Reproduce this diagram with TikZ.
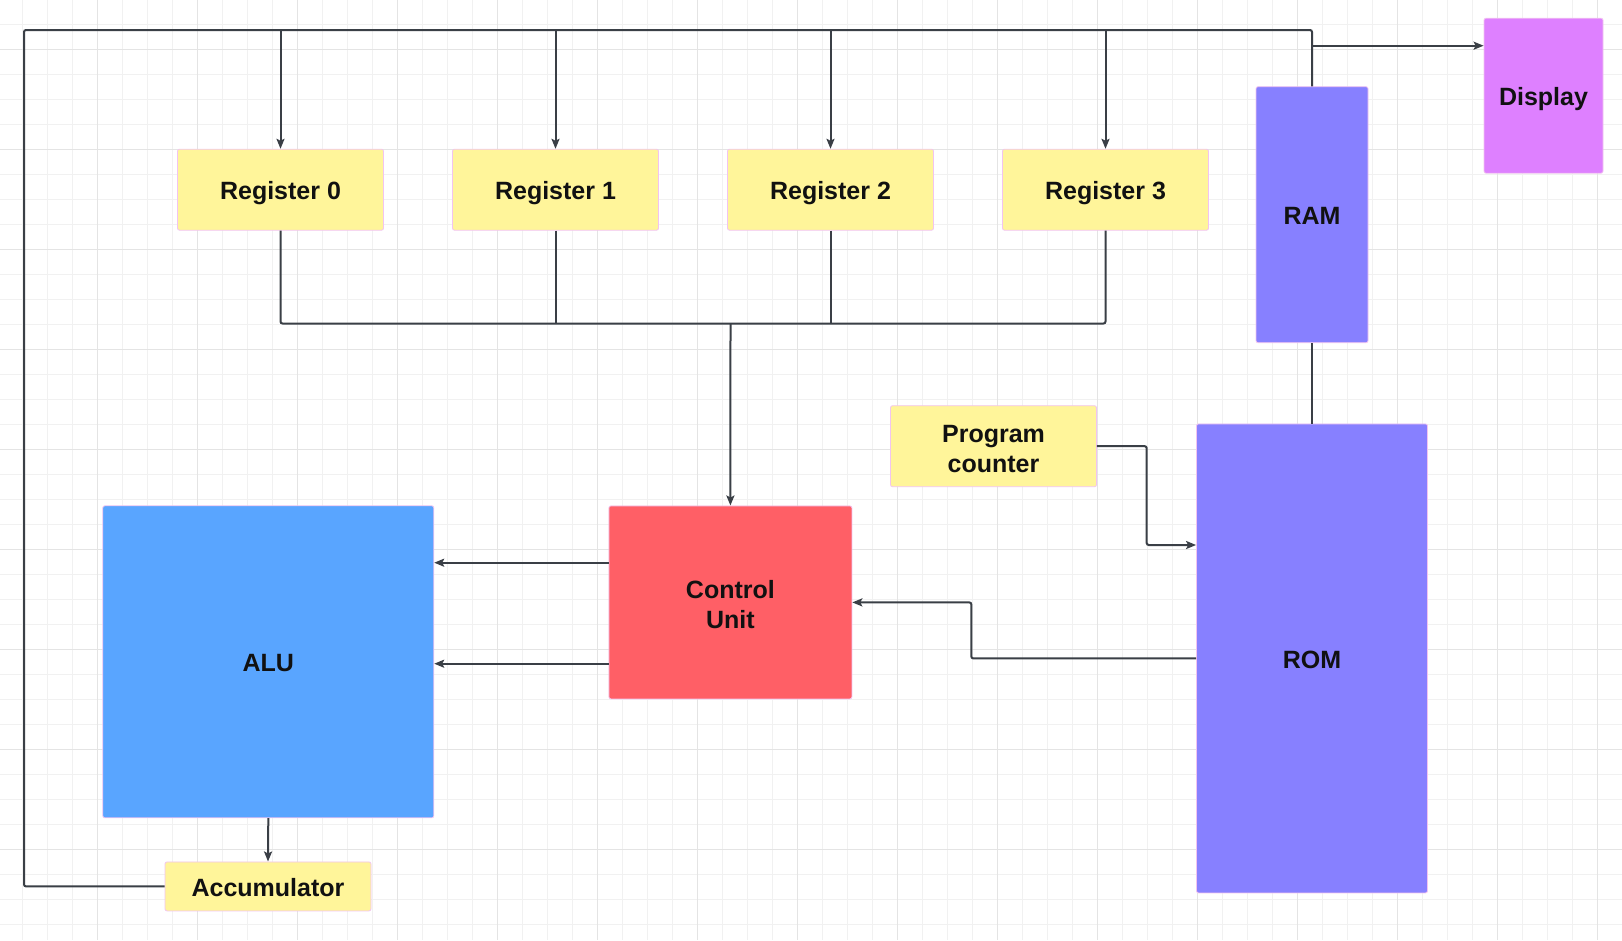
\documentclass[tikz,border=0pt]{standalone}
\usepackage{fontspec}
\setmainfont{Liberation Sans}
\usetikzlibrary{arrows.meta}

\definecolor{gridminor}{HTML}{F1F1F1}
\definecolor{gridmajor}{HTML}{E4E4E4}
\definecolor{wiregray}{HTML}{3A3F46}
\definecolor{boxedge}{HTML}{F2C4F0}
\definecolor{regyellow}{HTML}{FFF59A}
\definecolor{alublue}{HTML}{59A5FF}
\definecolor{cured}{HTML}{FF5F66}
\definecolor{mempurple}{HTML}{8780FF}
\definecolor{dspmagenta}{HTML}{DE80FF}
\definecolor{txtblack}{HTML}{111111}

\begin{document}
\begin{tikzpicture}[x=1pt,y=-1pt,
  box/.style={draw=boxedge,line width=0.8pt,rounded corners=2pt,inner sep=0pt,
    text=txtblack,font=\bfseries\fontsize{25}{30}\selectfont,align=center,
    text height=19.5pt,text depth=0pt},
  twolines/.style={text height=52pt,text depth=0pt},
  wire/.style={draw=wiregray,line width=2pt,rounded corners=2pt},
  arr/.style={wire,-{Stealth[length=10pt,width=8pt,inset=2pt]}}]

\useasboundingbox (0,0) rectangle (1622,940);
\fill[white] (0,0) rectangle (1622,940);

% grid
\foreach \x in {22.3,47.3,...,1622} \draw[gridminor,line width=1pt] (\x,0) -- (\x,940);
\foreach \y in {24,49,...,940} \draw[gridminor,line width=1pt] (0,\y) -- (1622,\y);
\foreach \x in {97.7,197.7,...,1622} \draw[gridmajor,line width=1pt] (\x,0) -- (\x,940);
\foreach \y in {49,149,...,940} \draw[gridmajor,line width=1pt] (0,\y) -- (1622,\y);

% registers
\foreach \i in {0,...,3}
  \node[box,fill=regyellow,minimum width=206pt,minimum height=81pt] (r\i) at (280.5+275*\i,189.7) {Register \i};

% memory and display
\node[box,fill=mempurple,minimum width=112pt,minimum height=256pt] (ram) at (1312,214.7) {RAM};
\node[box,fill=mempurple,minimum width=231pt,minimum height=469pt] (rom) at (1312,658.4) {ROM};
\node[box,fill=dspmagenta,minimum width=119pt,minimum height=155pt] (dsp) at (1543.5,95.7) {Display};
\node[box,twolines,fill=regyellow,minimum width=206pt,minimum height=81pt] (pc) at (993.5,446.2) {Program\\counter};

% processor
\node[box,twolines,fill=cured,minimum width=243pt,minimum height=193pt] (cu) at (730.4,602.4) {Control\\Unit};
\node[box,fill=alublue,minimum width=331pt,minimum height=312pt] (alu) at (268.3,661.8) {ALU};
\node[box,fill=regyellow,minimum width=206pt,minimum height=49pt] (acc) at (268,886.4) {Accumulator};

% frame round the registers
\coordinate (tl) at (24,30);
\coordinate (tr) at (1312,30);
\draw[wire] (acc.west) -- (acc.west -| tl) -- (tl) -- (tr) -- (ram.north);
\foreach \i in {0,...,3} \draw[arr] (r\i.north |- tl) -- (r\i.north);
\coordinate (dd) at (1312,45.7);
\draw[arr] (dd) -- (dd -| dsp.west);

% bus down to the control unit
\coordinate (bus) at (730.5,323.5);
\draw[wire] (r0.south) |- (bus) -| (r3.south);
\draw[wire] (r1.south) -- (r1.south |- bus);
\draw[wire] (r2.south) -- (r2.south |- bus);
\draw[arr] (bus) -- (cu.north);

% control unit to ALU
\coordinate (c1) at ([yshift=39.7pt]cu.west);
\coordinate (c2) at ([yshift=-61.3pt]cu.west);
\draw[arr] (c1) -- (c1 -| alu.east);
\draw[arr] (c2) -- (c2 -| alu.east);

% ROM to control unit
\coordinate (rc) at (rom.west -| 971.3,0);
\draw[arr] (rom.west) -- (rc) |- (cu.east);

% program counter to ROM
\coordinate (pr) at (1146.7,545);
\draw[arr] (pc.east) -| (pr) -- (pr -| rom.west);

% RAM to ROM, ALU to accumulator
\draw[wire] (ram.south) -- (rom.north);
\draw[arr] (alu.south) -- (acc.north);

\end{tikzpicture}
\end{document}
